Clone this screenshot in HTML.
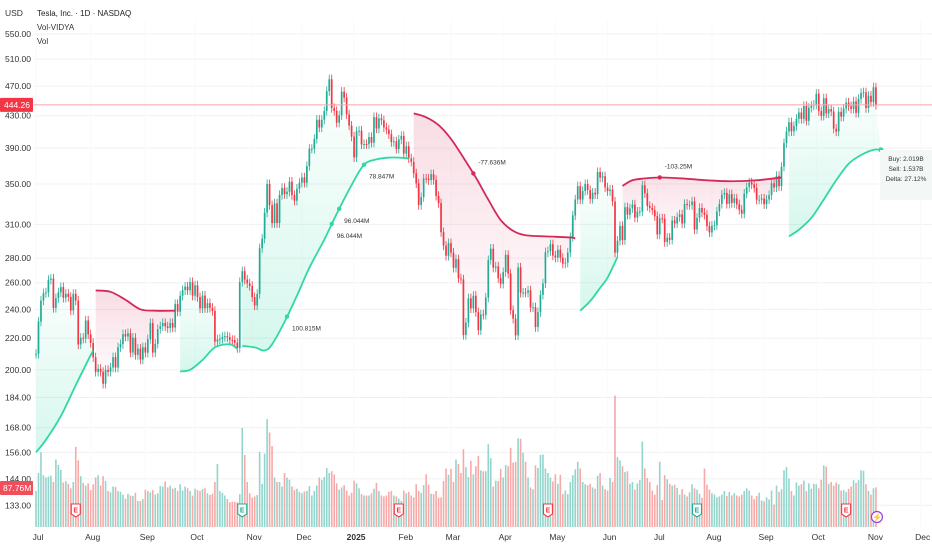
<!DOCTYPE html>
<html><head><meta charset="utf-8">
<style>
html,body{margin:0;padding:0;background:#fff;}
#wrap{position:relative;width:932px;height:550px;overflow:hidden;font-family:"Liberation Sans",sans-serif;}
svg text{font-family:"Liberation Sans",sans-serif;}
</style></head>
<body>
<div id="wrap">
<svg id="chart" width="932" height="550" viewBox="0 0 932 550">
  <defs>
    <linearGradient id="gGreen" x1="0" y1="1" x2="0" y2="0">
      <stop offset="0" stop-color="#2fd8a5" stop-opacity="0.2"/>
      <stop offset="1" stop-color="#2fd8a5" stop-opacity="0.01"/>
    </linearGradient>
    <linearGradient id="gRed" x1="0" y1="0" x2="0" y2="1">
      <stop offset="0" stop-color="#d42a5a" stop-opacity="0.16"/>
      <stop offset="1" stop-color="#d42a5a" stop-opacity="0.01"/>
    </linearGradient>
  </defs>
  <g id="grid"></g>
  <g id="vol"></g>
  <g id="fills"></g>
  <g id="candles"></g>
  <g id="lines"></g>
  <g id="axes"></g>
</svg>
</div>
<script>
// ---------- DATA ----------
const closes = [
209.9,231.3,246.4,252.0,252.6,262.3,263.3,241.0,248.2,252.6,256.6,248.5,251.5,249.2,239.2,251.5,246.4,215.9,220.3,219.8,232.1,222.6,
216.9,207.7,198.8,200.6,198.8,191.8,200.0,198.8,201.4,207.8,201.4,214.1,216.1,222.7,221.1,223.3,210.7,220.3,209.2,213.2,206.3,214.1,
210.6,219.4,230.2,210.7,216.3,226.2,228.1,230.3,227.9,226.8,230.3,227.2,243.9,238.3,250.0,254.3,257.0,254.2,260.5,250.1,
258.0,249.0,240.7,250.1,240.8,244.5,241.1,238.8,217.8,219.2,219.6,220.9,221.3,220.7,218.9,218.8,217.0,213.6,260.5,269.2,262.5,259.5,257.5,
249.0,242.8,251.4,288.5,296.9,321.2,350.0,328.5,311.2,330.2,311.2,338.7,346.0,339.6,342.0,352.6,338.6,332.9,345.2,351.4,
357.1,351.4,369.5,389.2,389.2,401.0,424.8,415.0,424.8,436.2,463.0,479.9,440.1,436.2,421.1,430.6,462.3,454.1,431.7,417.4,403.8,
379.3,410.4,411.1,394.4,394.9,394.7,403.3,396.4,428.2,413.8,426.5,424.1,415.1,412.4,406.6,397.2,398.1,389.1,400.3,404.6,
383.7,392.2,378.2,374.3,361.6,350.7,328.5,336.5,355.9,355.8,354.1,360.6,354.4,337.8,330.5,302.8,290.8,282.0,293.0,
284.7,272.0,279.1,263.5,262.7,222.2,230.6,248.1,240.7,250.0,238.0,225.3,236.3,236.0,248.7,278.4,288.1,272.1,273.1,263.6,259.2,
268.5,282.8,267.3,239.4,233.3,221.9,272.2,252.3,252.4,252.3,254.1,241.4,241.5,227.5,238.0,250.7,259.5,285.0,285.9,292.0,282.2,
280.5,287.2,280.3,275.4,276.2,284.8,298.3,318.4,334.1,347.7,334.1,342.8,350.0,343.8,334.6,341.0,339.3,362.9,356.9,358.4,346.5,
342.7,344.3,332.1,284.7,295.1,308.6,295.7,326.4,319.1,325.3,329.1,316.4,322.1,322.2,348.7,340.5,327.6,325.8,323.6,317.7,
300.7,315.7,315.4,293.9,297.8,295.9,313.5,310.8,316.9,319.4,310.8,329.7,328.5,328.5,332.1,305.3,316.1,325.6,321.2,319.0,308.3,302.6,
308.7,309.3,322.3,329.7,339.0,340.8,329.7,339.4,330.6,335.2,329.3,323.9,320.1,340.0,346.6,351.7,349.6,346.0,333.9,333.9,335.0,
329.4,334.1,338.5,350.8,346.4,358.8,347.8,368.8,395.9,410.0,421.6,410.3,416.9,426.1,434.2,425.9,442.8,423.4,440.4,443.2,444.7,
459.5,436.0,429.8,453.3,433.1,438.7,435.5,413.5,410.0,435.2,428.8,439.3,447.4,442.6,439.0,449.0,433.7,452.4,460.6,461.5,440.1,456.6,448.0,
468.4,444.26];
const volumes = [
80,120,166,115,110,112,114,100,150,138,127,99,102,96,86,100,178,148,113,98,92,97,
82,95,110,115,92,113,102,80,77,90,89,80,78,72,63,74,70,69,76,58,58,62,
83,80,77,82,72,75,91,90,101,88,92,85,87,80,95,81,90,86,80,70,
85,82,80,84,86,75,71,74,100,140,80,76,70,62,55,56,56,55,73,220,160,100,75,
65,68,71,167,96,163,240,210,180,110,100,100,90,120,110,105,90,82,85,78,
75,79,80,91,70,80,92,110,105,111,131,120,124,117,97,83,88,93,81,70,76,
103,97,86,73,70,70,70,75,85,98,80,70,68,70,78,80,70,68,63,58,
81,75,78,70,66,95,80,76,93,117,94,74,73,80,65,66,102,130,116,
129,100,150,140,120,173,133,111,147,117,135,158,126,124,124,184,153,90,103,102,129,
110,138,135,176,143,145,197,196,165,145,110,88,84,137,131,160,161,130,120,110,101,
117,96,116,73,81,73,100,115,128,145,130,100,95,93,96,88,85,114,120,92,84,
81,109,100,292,155,148,135,122,124,96,100,83,97,104,190,130,109,100,81,72,
93,145,60,115,106,96,92,94,87,72,84,72,68,77,95,86,83,74,65,130,94,83,
75,72,66,68,72,80,69,78,70,75,70,68,72,80,86,81,70,62,69,76,59,
57,66,61,81,50,92,78,84,126,133,108,80,70,99,92,95,103,80,97,85,96,
95,86,105,137,134,96,100,92,99,95,81,82,78,85,90,104,98,104,126,125,95,80,72,
86,88];
const priceTicks = [550,510,470,430,390,350,310,280,260,240,220,200,184,168,156,144,133];
const monthLabels = ["Jul","Aug","Sep","Oct","Nov","Dec","2025","Feb","Mar","Apr","May","Jun","Jul","Aug","Sep","Oct","Nov","Dec"];
const monthStarts = [0,22,44,64,87,107,128,148,167,188,209,230,250,272,293,314,337,356];
const vidyaSegments = [
 {dir:"up",   idx:[0,4,10,16,21,23], val:[156,162,174,191,206,212]},
 {dir:"down", idx:[24,30,36,42,48,56], val:[254,253,247,240,239,239]},
 {dir:"up",   idx:[58,62,67,72,78,81], val:[199,200,206,214,216,213]},
 {dir:"up",   idx:[83,88,92,95,100,105,110,116,121,127,132,137,142,146,150], val:[215,214,212,216,231,250,272,296,320,349,371,377,379,379,378]},
 {dir:"down", idx:[152,157,162,167,172,177,182,187,192,197,205,215,217], val:[433,428,418,401,379,357,334,314,304,300,299,298,297]},
 {dir:"up",   idx:[219,223,227,230,234], val:[239,246,256,264,281]},
 {dir:"down", idx:[236,240,245,251,260,270,280,290,300], val:[348,354,356,357,356,354,353,354,357]},
 {dir:"up",   idx:[303,307,312,317,322,327,332,337,340], val:[299,305,316,334,354,372,382,388,388]}
];
const markerIdx = [101,119,122,132,176,251];
const markerText = ["100.815M","96.044M","96.044M","78.847M","-77.636M","-103.25M"];
const earningsIdx = [16,83,146,206,266,326];
const earningsBeat = [false,true,false,false,true,false];
const lastPrice = 444.26;
const lastVolume = "87.76M";

// ---------- SCALES ----------
const NS = "http://www.w3.org/2000/svg";
function xs(i){ return 36 + i*2.485; }
function ys(p){ return 34 + Math.log(550/p)*332; }
function vs(v){ return 527 - v*0.45; }
function mk(tag, attrs, parent){
  const e = document.createElementNS(NS, tag);
  for (const k in attrs) e.setAttribute(k, attrs[k]);
  parent.appendChild(e); return e;
}
const G = id => document.getElementById(id);
const GREEN = "#22ab94", RED = "#f23645";

const grid = G("grid");
priceTicks.forEach(p=>{
  const l = mk("line",{x1:34,x2:932,y1:ys(p),y2:ys(p),stroke:"#f0f0f2","stroke-width":1},grid);
  
  
});
monthStarts.forEach(m=>{
  const l = mk("line",{x1:xs(m),x2:xs(m),y1:20,y2:527,stroke:"#fafafb","stroke-width":1},grid);
  
  
});

const vol = G("vol");
volumes.forEach((v,i)=>{
  const up = i===0 ? true : closes[i] >= closes[i-1];
  const r = mk("rect",{x:xs(i)-0.8,y:vs(v),width:1.6,height:527-vs(v),fill: up?"#92d5cc":"#f7a9a7"},vol);
  
  
});

function smoothPts(pts){
  let d = "M"+pts[0][0]+","+pts[0][1];
  for (let k=0;k<pts.length-1;k++){
    const p0=pts[k-1]||pts[k], p1=pts[k], p2=pts[k+1], p3=pts[k+2]||p2;
    const c1=[p1[0]+(p2[0]-p0[0])/6, p1[1]+(p2[1]-p0[1])/6];
    const c2=[p2[0]-(p3[0]-p1[0])/6, p2[1]-(p3[1]-p1[1])/6];
    d += " C"+c1[0]+","+c1[1]+" "+c2[0]+","+c2[1]+" "+p2[0]+","+p2[1];
  }
  return d;
}

const fills = G("fills"), lines = G("lines");
vidyaSegments.forEach(seg=>{
  const pts = seg.idx.map((ix,k)=>[xs(ix), ys(seg.val[k])]);
  const first = seg.idx[0], last = seg.idx[seg.idx.length-1];
  let d = smoothPts(pts);
  let fd = d;
  for (let i=Math.min(last,closes.length-1); i>=Math.max(first,0); i--){
    fd += " L"+xs(i)+","+ys(closes[i]);
  }
  fd += " Z";
  const f = mk("path",{d:fd,fill: seg.dir==="up"?"url(#gGreen)":"url(#gRed)",stroke:"none"},fills);
  
  
  const l = mk("path",{d:d,fill:"none",stroke: seg.dir==="up"?"#2fd8a5":"#d42a5a","stroke-width":1.8},lines);
  
  
});

const cg = G("candles");
closes.forEach((c,i)=>{
  const o = i===0 ? c : closes[i-1];
  const up = c >= o;
  const hi = Math.max(o,c)*1.014, lo = Math.min(o,c)*0.986;
  const col = up?GREEN:RED;
  const w = mk("line",{x1:xs(i),x2:xs(i),y1:ys(hi),y2:ys(lo),stroke:col,"stroke-width":0.8},cg);
  
  
  const top = ys(Math.max(o,c)), bot = ys(Math.min(o,c));
  const b = mk("rect",{x:xs(i)-0.85,y:top,width:1.7,height:Math.max(1,bot-top),fill:col},cg);
  
  
});

function vidyaAt(ix){
  for (const seg of vidyaSegments){
    const a=seg.idx, n=a.length;
    if (ix>=a[0] && ix<=a[n-1]){
      for (let k=0;k<n-1;k++) if (ix>=a[k]&&ix<=a[k+1]){
        const t=(ix-a[k])/(a[k+1]-a[k]);
        return {v:seg.val[k]+(seg.val[k+1]-seg.val[k])*t, dir:seg.dir};
      }
    }
  }
  return null;
}
const axes = G("axes");
markerIdx.forEach((ix,k)=>{
  const r = vidyaAt(ix); if(!r) return;
  const cx = xs(ix), cy = ys(r.v);
  const dot = mk("circle",{cx:cx,cy:cy,r:2.2,fill: r.dir==="up"?"#2fd8a5":"#d42a5a"},lines);
  
  
  const ty = r.dir==="up" ? cy+14 : cy-9;
  const t = mk("text",{x:cx+5,y:ty,"font-size":6.5,fill:"#333"},lines);
  t.textContent = markerText[k];
  
  
});
{
  const s = vidyaSegments[vidyaSegments.length-1];
  const n = s.idx.length-1;
  const d = mk("circle",{cx:xs(s.idx[n]),cy:ys(s.val[n]),r:2.6,fill:"#2fd8a5"},lines);
  
  
}

const lpY = ys(lastPrice);
const lp = mk("line",{x1:34,x2:932,y1:lpY,y2:lpY,stroke:"#f6a5ad","stroke-width":1},axes);



earningsIdx.forEach((ix,k)=>{
  const x = xs(ix), y = 510;
  const col = earningsBeat[k] ? "#22ab94" : "#f23645";
  const g = mk("g",{},axes);
  
  
  mk("path",{d:`M${x-4.5},${y-6} L${x+4.5},${y-6} L${x+4.5},${y+4} L${x},${y+7} L${x-4.5},${y+4} Z`,fill:"#fff",stroke:col,"stroke-width":1.1},g);
  const t = mk("text",{x:x,y:y+2.5,"font-size":7,"text-anchor":"middle",fill:col,"font-weight":"bold"},g);
  t.textContent = "E";
});
{
  const x = xs(338)+1, y = 517;
  const g = mk("g",{},axes);
  
  
  mk("circle",{cx:x,cy:y,r:5.5,fill:"#fff",stroke:"#9c3ce6","stroke-width":1.2},g);
  const t = mk("text",{x:x,y:y+3,"font-size":8,"text-anchor":"middle",fill:"#9c3ce6"},g);
  t.textContent = "⚡";
}

priceTicks.forEach(p=>{
  const t = mk("text",{x:5,y:ys(p)+3,"font-size":8.5,fill:"#333"},axes);
  t.textContent = p.toFixed(2);
  
  
});
{
  const r = mk("rect",{x:0,y:lpY-7,width:33,height:14,fill:"#f23645",rx:1},axes);
  
  
  const t = mk("text",{x:4,y:lpY+3,"font-size":8.5,fill:"#fff"},axes);
  t.textContent = lastPrice.toFixed(2);
  
  
  const r2 = mk("rect",{x:0,y:481,width:33,height:14,fill:"#f04e5a",rx:1},axes);
  
  
  const t2 = mk("text",{x:3,y:491,"font-size":8.5,fill:"#fff"},axes);
  t2.textContent = lastVolume;
  
  
}

monthLabels.forEach((m,k)=>{
  const t = mk("text",{x:xs(monthStarts[k])+2,y:540,"font-size":8.5,"text-anchor":"middle",fill:"#333","font-weight":m==="2025"?"bold":"normal"},axes);
  t.textContent = m;
  
  
});

const hdr = [["USD",5,16,8.5,"#333"],["Tesla, Inc. · 1D · NASDAQ",37,16,8,"#222"],["Vol-VIDYA",37,30,8,"#333"],["Vol",37,44,8,"#333"]];
const hdrNames = ["currency-label","symbol-title","indicator-vidya-label","indicator-vol-label"];
hdr.forEach((h,k)=>{
  const t = mk("text",{x:h[1],y:h[2],"font-size":h[3],fill:h[4]},axes);
  t.textContent = h[0];
  
  
});

{
  const bx = mk("rect",{x:880,y:150,width:52,height:50,fill:"#f3f8f6"},axes);
  
  
  ["Buy: 2.019B","Sell: 1.537B","Delta: 27.12%"].forEach((s,k)=>{
    const t = mk("text",{x:906,y:161+k*10,"font-size":6.5,"text-anchor":"middle",fill:"#333"},axes);
    t.textContent = s;
    
    
  });
}
</script>
</body></html>
